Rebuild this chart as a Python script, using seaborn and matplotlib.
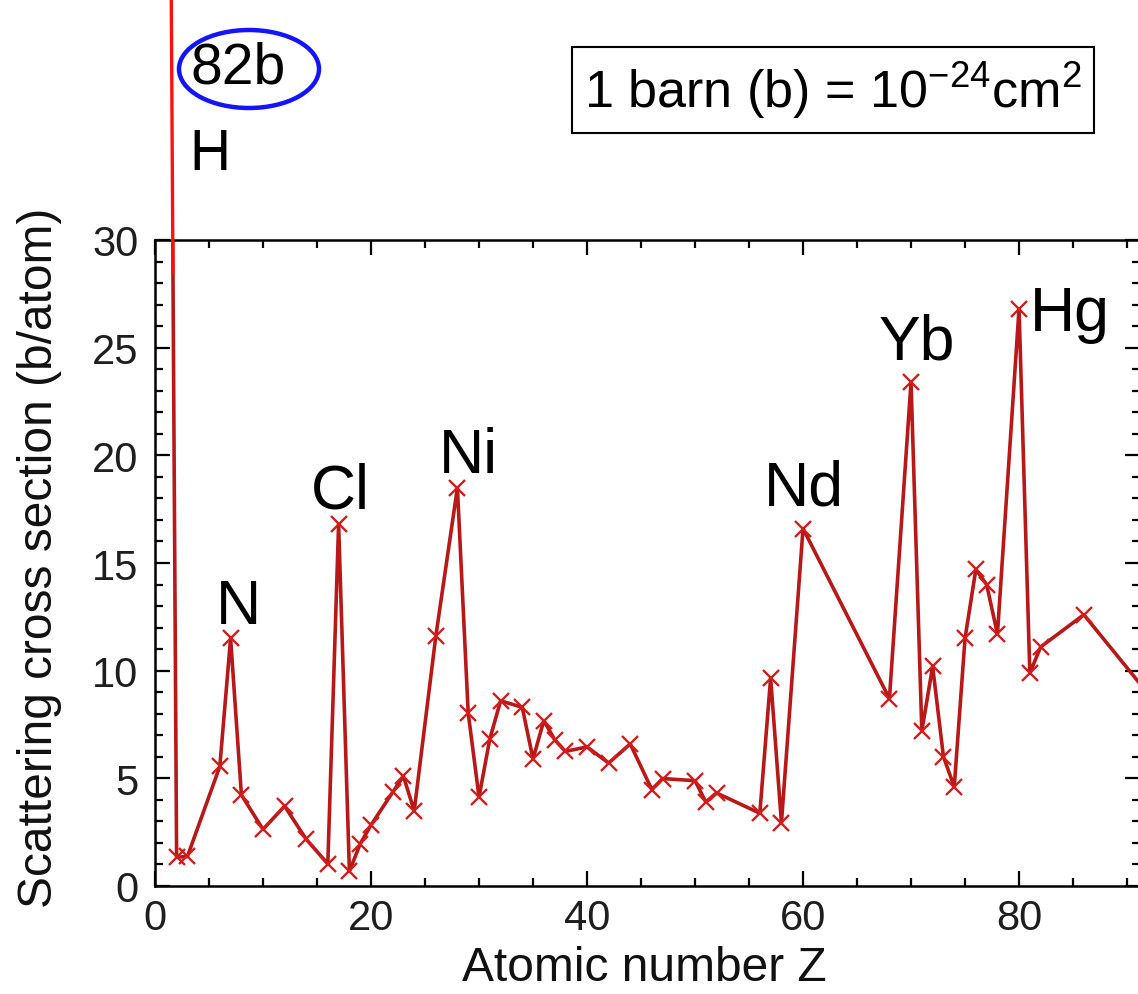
import matplotlib
matplotlib.use("Agg")
import matplotlib.pyplot as plt
from matplotlib.patches import Ellipse
from matplotlib.ticker import MultipleLocator
import numpy as np
import pandas as pd
import seaborn as sns

# neutron scattering cross section per element (b/atom)
z = [1, 2, 3, 6, 7, 8, 10, 12, 14, 16, 17, 18, 19, 20, 22, 23, 24, 26, 28, 29,
     30, 31, 32, 34, 35, 36, 37, 38, 40, 42, 44, 46, 47, 50, 51, 52, 56, 57, 58,
     60, 68, 70, 71, 72, 73, 74, 75, 76, 77, 78, 80, 81, 82, 86, 92]
sigma = [82.0, 1.34, 1.37, 5.55, 11.5, 4.23, 2.63, 3.71, 2.17, 1.03, 16.8, 0.68,
         1.96, 2.83, 4.35, 5.10, 3.49, 11.6, 18.5, 8.03, 4.13, 6.83, 8.6, 8.3,
         5.9, 7.68, 6.8, 6.25, 6.46, 5.71, 6.6, 4.48, 4.99, 4.89, 3.9, 4.32, 3.38,
         9.66, 2.94, 16.6, 8.7, 23.4, 7.2, 10.2, 6.01, 4.6, 11.5, 14.7, 14.0,
         11.7, 26.8, 9.89, 11.1, 12.6, 8.9]

peak_names = ["N", "Cl", "Ni", "Nd", "Yb", "Hg"]
peak_z = [7, 17, 28, 60, 70, 80]
# label offsets in points
peak_offsets = [(6, 11), (1, 12), (8, 11), (1, 17), (4, 17), (8, -15)]

df = pd.DataFrame({"Z": z, "sigma": sigma})

sns.set_theme(style="ticks")
plt.rcParams["font.family"] = ["Liberation Sans", "DejaVu Sans"]
plt.rcParams["text.color"] = "black"
plt.rcParams["mathtext.fontset"] = "custom"
plt.rcParams["mathtext.rm"] = "Liberation Sans"

fig = plt.figure(figsize=(11.38, 9.95), dpi=100)
ax = fig.add_axes([155 / 1138, 108 / 995, 985 / 1138, 646 / 995])

sns.lineplot(data=df, x="Z", y="sigma", ax=ax, color="#b81818", lw=2.6,
             marker="x", markersize=11, markeredgewidth=1.7,
             markeredgecolor="#d41c1c", sort=False)

ax.set_xlim(0, 91.2)
ax.set_ylim(0, 30)

# hydrogen goes off the top of the axes: bright red segment beyond the frame
y_cut = 28.5
x_cut = z[0] + (sigma[0] - y_cut) / (sigma[0] - sigma[1]) * (z[1] - z[0])
ax.plot([z[0], x_cut], [sigma[0], y_cut], color="#ff1010", lw=2.4, clip_on=False,
        zorder=5)

ax.xaxis.set_major_locator(MultipleLocator(20))
ax.xaxis.set_minor_locator(MultipleLocator(5))
ax.yaxis.set_major_locator(MultipleLocator(5))
ax.yaxis.set_minor_locator(MultipleLocator(1))
ax.tick_params(which="both", direction="in", top=True, right=True, width=1.6,
               color="black")
ax.tick_params(which="major", length=11)
ax.tick_params(which="minor", length=6)
ax.tick_params(axis="x", labelsize=30, pad=9, labelcolor="#1e1e1e")
ax.tick_params(axis="y", labelsize=30, pad=12, labelcolor="#1e1e1e")
for s in ax.spines.values():
    s.set_linewidth(1.8)
    s.set_color("black")

ax.set_xlabel("Atomic number Z", fontsize=34.5, color="#111111")
ax.set_ylabel("Scattering cross section (b/atom)", fontsize=34.5, color="#111111")
ax.xaxis.set_label_coords(0.497, -0.092)
ax.yaxis.set_label_coords(-0.094, 0.51)

for name, pz, off in zip(peak_names, peak_z, peak_offsets):
    val = sigma[z.index(pz)]
    ha = "left" if name == "Hg" else "center"
    ax.annotate(name, (pz, val), xytext=off, textcoords="offset points",
                ha=ha, va="baseline", fontsize=45, color="black")

# labels above the frame for hydrogen
ax.text(5.1, 34.0, "H", fontsize=41, ha="center", va="center", clip_on=False)
fig.text(238 / 1138, 1 - 68 / 995, f"{sigma[0]:.0f}b", fontsize=41,
         ha="center", va="center")
fig.patches.append(Ellipse((249 / 1138, 1 - 70 / 995), 140 / 1138, 78 / 995,
                           transform=fig.transFigure, fill=False,
                           ec="#1414ff", lw=3.2))

fig.text(833 / 1138, 1 - 91 / 995,
         r"1 barn (b) = 10$^{\mathregular{-24}}$cm$^{\mathregular{2}}$",
         fontsize=37.5, ha="center", va="center",
         bbox=dict(boxstyle="square,pad=0.24", fc="white", ec="black", lw=1.5))

fig.savefig("out.png", dpi=100)
